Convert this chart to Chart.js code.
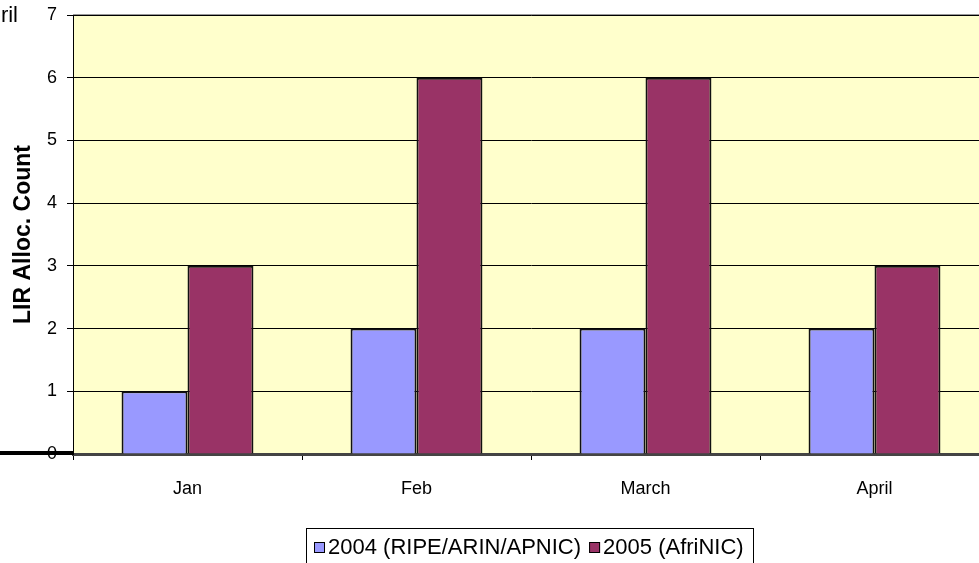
<!DOCTYPE html>
<html>
<head>
<meta charset="utf-8">
<script src="https://cdn.jsdelivr.net/npm/chart.js@4"></script>
<style>
  body { margin: 0; overflow: hidden; background: #fff; }
  #wrap { position: relative; width: 989px; height: 563px; }
</style>
</head>
<body>
<div id="wrap"><canvas id="myChart"></canvas></div>
<script>
var months = ['Jan', 'Feb', 'March', 'April'];
var alloc2004 = [1, 2, 2, 2];
var alloc2005 = [3, 6, 6, 3];
var yTicks = [0, 1, 2, 3, 4, 5, 6, 7];

var font = 'Arial, "Liberation Sans", sans-serif';

// yellow plot background, framed legend, leftover title and stray line
var decor = {
    id: 'decor',
    beforeDraw: function (chart) {
        var a = chart.chartArea, c = chart.ctx;
        c.save();
        c.fillStyle = '#FFFFCC';
        c.fillRect(a.left, a.top, a.right - a.left, a.bottom - a.top);
        c.strokeStyle = '#999';
        c.lineWidth = 2;
        c.beginPath();
        c.moveTo(a.left, a.top);
        c.lineTo(a.right, a.top);
        c.stroke();
        c.restore();
    },
    afterDraw: function (chart) {
        var c = chart.ctx, a = chart.chartArea;
        c.save();
        // legend
        c.strokeStyle = '#000';
        c.lineWidth = 1;
        c.strokeRect(306.5, 528.5, 447, 40);
        c.font = '22px ' + font;
        c.textAlign = 'left';
        c.textBaseline = 'middle';
        var x = 314;
        chart.data.datasets.forEach(function (ds) {
            c.fillStyle = ds.backgroundColor;
            c.fillRect(x, 542, 11, 11);
            c.strokeStyle = '#000';
            c.strokeRect(x + 0.5, 542.5, 10, 10);
            c.fillStyle = '#000';
            c.fillText(ds.label, x + 14, 548);
            x += 14 + c.measureText(ds.label).width + 8;
        });
        // stray thick line left of the axis
        c.lineWidth = 4;
        c.beginPath();
        c.moveTo(0, a.bottom - 1);
        c.lineTo(a.left, a.bottom - 1);
        c.stroke();
        // title cut off at the left edge
        c.font = '22px ' + font;
        c.textAlign = 'right';
        c.fillText('April', 18, 16);
        c.restore();
    }
};

var ctx = document.getElementById('myChart').getContext('2d');
var myChart = new Chart(ctx, {
    type: 'bar',
    data: {
        labels: months,
        datasets: [
            { label: '2004 (RIPE/ARIN/APNIC)', data: alloc2004, backgroundColor: '#9999FF', borderColor: '#111', borderWidth: 2 },
            { label: '2005 (AfriNIC)', data: alloc2005, backgroundColor: '#993366', borderColor: '#111', borderWidth: 2 }
        ]
    },
    plugins: [decor],
    options: {
        responsive: true,
        maintainAspectRatio: false,
        animation: false,
        datasets: { bar: { categoryPercentage: 0.576, barPercentage: 1 } },
        layout: { padding: { top: 15, left: 0, right: 0, bottom: 0 } },
        plugins: {
            tooltip: { enabled: false },
            legend: { display: false }
        },
        scales: {
            x: {
                offset: true,
                grid: { offset: true, drawOnChartArea: false, drawTicks: true, tickLength: 6, color: '#000' },
                border: { color: '#444', width: 3 },
                ticks: { color: '#000', font: { family: font, size: 18 }, padding: 18 },
                afterFit: function (s) { s.height = 109; }
            },
            y: {
                min: 0,
                max: 7,
                afterBuildTicks: function (s) { s.ticks = yTicks.map(function (v) { return { value: v }; }); },
                grid: { color: '#000', lineWidth: 1, tickLength: 6, drawTicks: true },
                border: { color: '#000', width: 1 },
                ticks: { color: '#000', font: { family: font, size: 18 }, padding: 10 },
                title: { display: true, text: 'LIR Alloc. Count', color: '#000', font: { family: font, size: 23, weight: 'bold' }, padding: { top: 10, bottom: 0 } },
                afterFit: function (s) { s.width = 73; s.paddingTop = 0; s.paddingBottom = 0; }
            }
        }
    }
});
</script>
</body>
</html>
